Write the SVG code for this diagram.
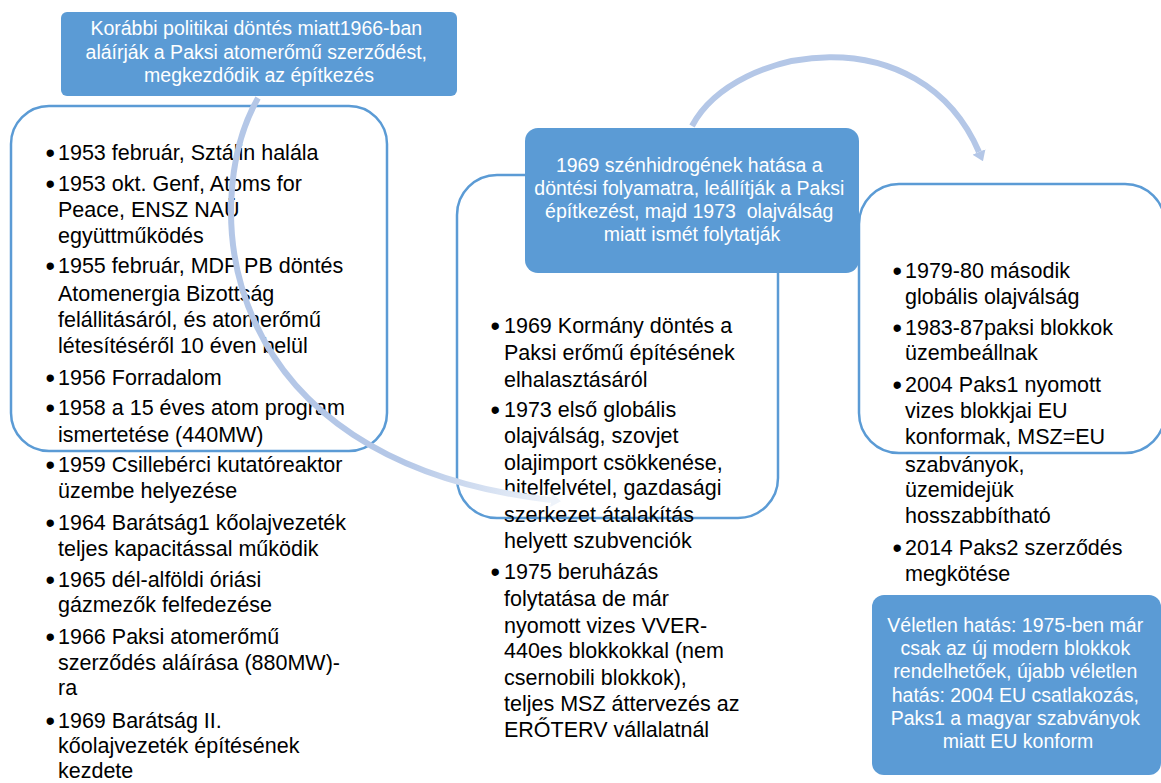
<svg xmlns="http://www.w3.org/2000/svg" width="1161" height="783" viewBox="0 0 1161 783">
<style>
.blue{fill:#5b9bd5;}
.outline{fill:none;stroke:#5b9bd5;stroke-width:2.5;}
.wt{font-family:"Liberation Sans",Arial,sans-serif;font-size:19.5px;fill:#ffffff;text-anchor:middle;}
.bt{font-family:"Liberation Sans",Arial,sans-serif;font-size:21.5px;fill:#000000;}
.b{font-size:27px;}
.arc{fill:none;stroke-width:6;}
</style>
<defs>
<linearGradient id="fade" gradientUnits="userSpaceOnUse" x1="400" y1="480" x2="560" y2="500">
<stop offset="0" stop-color="#b4c7e7"/>
<stop offset="1" stop-color="#f2f6fb"/>
</linearGradient>
<marker id="ah" viewBox="0 0 10 14" markerWidth="10" markerHeight="14" refX="0" refY="7" orient="auto" markerUnits="userSpaceOnUse">
<path d="M0,0 L10,7 L0,14 z" fill="#b4c7e7"/>
</marker>
<marker id="ahf" viewBox="0 0 10 14" markerWidth="10" markerHeight="14" refX="0" refY="7" orient="auto" markerUnits="userSpaceOnUse">
<path d="M0,0 L10,7 L0,14 z" fill="#eef3fa"/>
</marker>
</defs>

<g id="node-left">
<rect class="outline" x="11" y="106" width="376" height="345" rx="38"/>
<text class="bt">
<tspan class="b" x="45.5" y="162">•</tspan><tspan x="58" y="160">1953 február, Sztálin halála</tspan>
<tspan class="b" x="45.5" y="193">•</tspan><tspan x="58" y="191">1953 okt. Genf, Atoms for</tspan>
<tspan x="58" y="217">Peace, ENSZ NAÜ</tspan>
<tspan x="58" y="243">együttműködés</tspan>
<tspan class="b" x="45.5" y="275">•</tspan><tspan x="58" y="273">1955 február, MDP PB döntés</tspan>
<tspan x="58" y="301">Atomenergia Bizottság</tspan>
<tspan x="58" y="327">felállitásáról, és atomerőmű</tspan>
<tspan x="58" y="353">létesítéséről 10 éven belül</tspan>
<tspan class="b" x="45.5" y="387">•</tspan><tspan x="58" y="385">1956 Forradalom</tspan>
<tspan class="b" x="45.5" y="417">•</tspan><tspan x="58" y="415">1958 a 15 éves atom program</tspan>
<tspan x="58" y="442">ismertetése (440MW)</tspan>
<tspan class="b" x="45.5" y="474">•</tspan><tspan x="58" y="472">1959 Csillebérci kutatóreaktor</tspan>
<tspan x="58" y="498">üzembe helyezése</tspan>
<tspan class="b" x="45.5" y="532">•</tspan><tspan x="58" y="530">1964 Barátság1 kőolajvezeték</tspan>
<tspan x="58" y="556">teljes kapacitással működik</tspan>
<tspan class="b" x="45.5" y="589">•</tspan><tspan x="58" y="587">1965 dél-alföldi óriási</tspan>
<tspan x="58" y="612">gázmezők felfedezése</tspan>
<tspan class="b" x="45.5" y="646">•</tspan><tspan x="58" y="644">1966 Paksi atomerőmű</tspan>
<tspan x="58" y="670">szerződés aláírása (880MW)-</tspan>
<tspan x="58" y="695">ra</tspan>
<tspan class="b" x="45.5" y="730">•</tspan><tspan x="58" y="728">1969 Barátság II.</tspan>
<tspan x="58" y="753">kőolajvezeték építésének</tspan>
<tspan x="58" y="778">kezdete</tspan>
</text>
</g>

<g id="node-top">
<rect class="blue" x="61" y="12" width="396" height="84" rx="6"/>
<text class="wt">
<tspan x="259" y="35">Korábbi politikai döntés miatt1966-ban</tspan>
<tspan x="259" y="59">aláírják a Paksi atomerőmű szerződést,</tspan>
<tspan x="259" y="82">megkezdődik az építkezés</tspan>
</text>
</g>

<g id="node-middle">
<rect class="outline" x="457" y="175" width="321" height="343" rx="40"/>
<text class="bt">
<tspan class="b" x="490.5" y="335">•</tspan><tspan x="504" y="333">1969 Kormány döntés a</tspan>
<tspan x="504" y="360">Paksi erőmű építésének</tspan>
<tspan x="504" y="387">elhalasztásáról</tspan>
<tspan class="b" x="490.5" y="419">•</tspan><tspan x="504" y="417">1973 első globális</tspan>
<tspan x="504" y="443">olajválság, szovjet</tspan>
<tspan x="504" y="470">olajimport csökkenése,</tspan>
<tspan x="504" y="495">hitelfelvétel, gazdasági</tspan>
<tspan x="504" y="522">szerkezet átalakítás</tspan>
<tspan x="504" y="548">helyett szubvenciók</tspan>
<tspan class="b" x="490.5" y="581">•</tspan><tspan x="504" y="579">1975 beruházás</tspan>
<tspan x="504" y="606">folytatása de már</tspan>
<tspan x="504" y="633">nyomott vizes VVER-</tspan>
<tspan x="504" y="658">440es blokkokkal (nem</tspan>
<tspan x="504" y="685">csernobili blokkok),</tspan>
<tspan x="504" y="711">teljes MSZ áttervezés az</tspan>
<tspan x="504" y="737">ERŐTERV vállalatnál</tspan>
</text>
</g>

<g id="node-middle-title">
<rect class="blue" x="525" y="128" width="334" height="145" rx="13"/>
<text class="wt">
<tspan x="692" y="172">1969 szénhidrogének hatása a</tspan>
<tspan x="692" y="195">döntési folyamatra, leállítják a Paksi</tspan>
<tspan x="692" y="218" xml:space="preserve">építkezést, majd 1973  olajválság</tspan>
<tspan x="692" y="241">miatt ismét folytatják</tspan>
</text>
</g>

<g id="node-right">
<rect class="outline" x="859" y="184" width="306" height="269" rx="40"/>
<text class="bt">
<tspan class="b" x="892.5" y="280">•</tspan><tspan x="905" y="278">1979-80 második</tspan>
<tspan x="905" y="304">globális olajválság</tspan>
<tspan class="b" x="892.5" y="337">•</tspan><tspan x="905" y="335">1983-87paksi blokkok</tspan>
<tspan x="905" y="360">üzembeállnak</tspan>
<tspan class="b" x="892.5" y="394">•</tspan><tspan x="905" y="392">2004 Paks1 nyomott</tspan>
<tspan x="905" y="418">vizes blokkjai EU</tspan>
<tspan x="905" y="444">konformak, MSZ=EU</tspan>
<tspan x="905" y="472">szabványok,</tspan>
<tspan x="905" y="497">üzemidejük</tspan>
<tspan x="905" y="523">hosszabbítható</tspan>
<tspan class="b" x="892.5" y="557">•</tspan><tspan x="905" y="555">2014 Paks2 szerződés</tspan>
<tspan x="905" y="581">megkötése</tspan>
</text>
</g>

<g id="node-bottom-right">
<rect class="blue" x="872" y="595" width="289" height="180" rx="12"/>
<text class="wt">
<tspan x="1018" y="632">Véletlen hatás: 1975-ben már</tspan>
<tspan x="1018" y="655">csak az új modern blokkok</tspan>
<tspan x="1018" y="678">rendelhetőek, újabb véletlen</tspan>
<tspan x="1018" y="702">hatás: 2004 EU csatlakozás,</tspan>
<tspan x="1018" y="725">Paks1 a magyar szabványok</tspan>
<tspan x="1018" y="748">miatt EU konform</tspan>
</text>
</g>

<g id="connectors">
<path class="arc" d="M258,98 C200,200 210,460 551,500" stroke="url(#fade)" marker-end="url(#ahf)"/>
<path class="arc" d="M692,126 C735,45 920,15 979,152" stroke="#b4c7e7" marker-end="url(#ah)"/>
</g>
</svg>
